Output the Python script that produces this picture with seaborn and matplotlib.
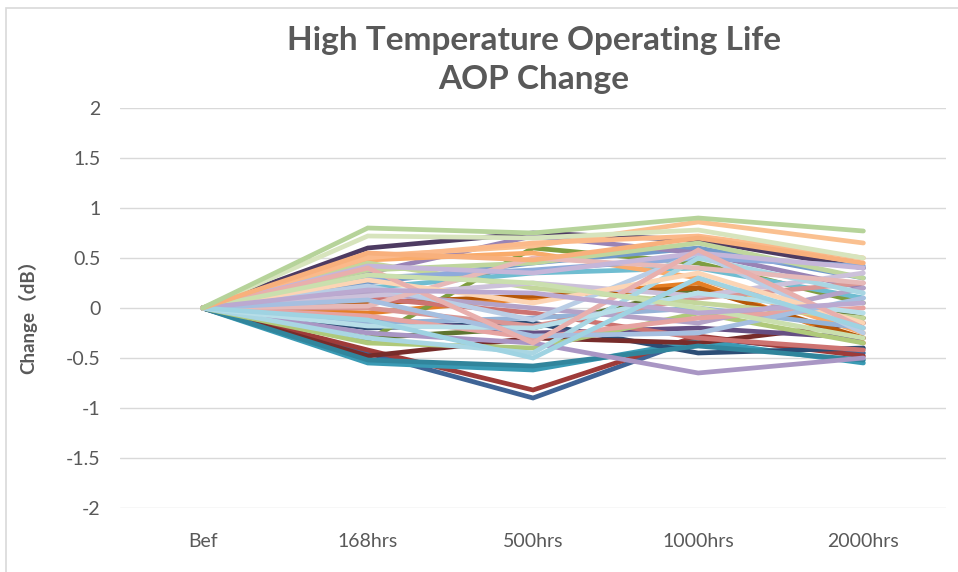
import numpy as np
import pandas as pd
import matplotlib
matplotlib.use("Agg")
import matplotlib.pyplot as plt
from matplotlib.patches import Rectangle
import seaborn as sns

# ---------------- data ----------------
categories = ["Bef", "168hrs", "500hrs", "1000hrs", "2000hrs"]

s01 = [0, -0.45, -0.90, -0.30, -0.45]
s02 = [0, -0.42, -0.82, -0.28, -0.48]
s03 = [0, -0.30, -0.20, 0.20, -0.10]
s04 = [0, 0.60, 0.75, 0.68, 0.40]
s05 = [0, -0.55, -0.62, -0.33, -0.55]
s06 = [0, -0.05, 0.10, 0.25, -0.35]
s07 = [0, -0.20, -0.15, -0.45, -0.40]
s08 = [0, -0.48, -0.30, -0.35, -0.15]
s09 = [0, -0.32, 0.60, 0.45, 0.05]
s10 = [0, -0.10, -0.25, -0.20, -0.30]
s11 = [0, -0.52, -0.58, -0.38, -0.52]
s12 = [0, 0.05, 0.12, 0.20, -0.30]
s13 = [0, 0.25, 0.45, 0.60, 0.30]
s14 = [0, 0.10, -0.05, -0.30, -0.42]
s15 = [0, -0.35, -0.40, -0.05, -0.35]
s16 = [0, 0.35, 0.72, 0.55, 0.20]
s17 = [0, 0.20, 0.35, 0.40, 0.10]
s18 = [0, 0.48, 0.55, 0.30, -0.25]
s19 = [0, -0.15, -0.10, 0.00, -0.20]
s20 = [0, 0.00, -0.18, 0.10, 0.25]
s21 = [0, 0.45, 0.20, 0.05, -0.10]
s22 = [0, 0.15, 0.00, -0.15, 0.20]
s23 = [0, -0.25, -0.35, -0.65, -0.50]
s24 = [0, 0.52, 0.62, 0.86, 0.65]
s25 = [0, 0.30, 0.38, 0.50, 0.42]
s26 = [0, -0.08, -0.30, -0.10, 0.00]
s27 = [0, 0.38, 0.45, 0.65, 0.30]
s28 = [0, 0.12, 0.25, 0.12, 0.35]
s29 = [0, -0.30, -0.45, 0.50, 0.15]
s30 = [0, 0.50, 0.65, 0.72, 0.50]
s31 = [0, 0.22, -0.12, 0.55, -0.25]
s32 = [0, 0.02, 0.50, 0.40, 0.25]
s33 = [0, 0.72, 0.70, 0.78, 0.50]
s34 = [0, 0.42, 0.35, 0.55, 0.40]
s35 = [0, -0.18, -0.20, 0.15, -0.05]
s36 = [0, 0.28, 0.05, 0.35, -0.15]
s37 = [0, 0.08, -0.28, -0.25, 0.10]
s38 = [0, 0.40, -0.35, 0.58, -0.20]
s39 = [0, 0.33, 0.25, 0.00, -0.30]
s40 = [0, 0.18, 0.15, -0.05, 0.05]
s41 = [0, -0.12, -0.50, 0.30, -0.20]
s42 = [0, 0.55, 0.48, 0.70, 0.45]
s43 = [0, 0.80, 0.75, 0.90, 0.77]

series = [s01, s02, s03, s04, s05, s06, s07, s08, s09, s10, s11, s12, s13,
          s14, s15, s16, s17, s18, s19, s20, s21, s22, s23, s24, s25, s26,
          s27, s28, s29, s30, s31, s32, s33, s34, s35, s36, s37, s38, s39,
          s40, s41, s42, s43]

# ---------------- style ----------------
colors = [
    "#3F6496", "#9E3B39", "#5F7530", "#4D3B62", "#3A9AB4", "#E57F25",
    "#2C4D75", "#772C2A", "#7E9D40", "#664F83", "#31859C", "#B65708",
    "#729ACA", "#CD7371", "#AFC97A", "#9983B5", "#6FBDD1", "#F9AB6B",
    "#95B3D7", "#D99694", "#C3D69B", "#B3A2C7", "#A996C4", "#FAC090",
    "#8EAADB", "#E6A3A1", "#BFD69E", "#CCC1DA", "#A9D6E3", "#FBB98A",
    "#B9CDE5", "#E6B9B8", "#D7E4BD", "#C5B6D9", "#B7DEE8", "#FCD5B5",
    "#A6BFE0", "#E8AFAD", "#CADFAE", "#BBA9D0", "#9FD3E2", "#F8B07C",
    "#B6D39A",
]

rows = []
for i, vals in enumerate(series):
    for j, v in enumerate(vals):
        rows.append({"series": f"S{i+1:02d}", "pos": j, "change": v})
df = pd.DataFrame(rows)

sns.set_theme(style="white")
plt.rcParams["font.family"] = ["Lato", "Noto Sans CJK SC", "DejaVu Sans"]

fig = plt.figure(figsize=(9.58, 5.72), dpi=100)
ax = fig.add_axes([120 / 958, 1 - 508 / 572, 826 / 958, 400 / 572])

palette = {f"S{i+1:02d}": colors[i % len(colors)] for i in range(len(series))}
sns.lineplot(data=df, x="pos", y="change", hue="series", palette=palette,
             legend=False, sort=False, linewidth=3.4, ax=ax,
             estimator=None, solid_joinstyle="miter")

ax.set_xlim(-0.5, 4.5)
ax.set_ylim(-2, 2)
ax.set_yticks(np.arange(-2, 2.01, 0.5))
ax.set_yticklabels(["-2", "-1.5", "-1", "-0.5", "0", "0.5", "1", "1.5", "2"])
ax.set_xticks(range(len(categories)))
ax.set_xticklabels(categories)
ax.grid(axis="y", color="#D9D9D9", linewidth=1.0)
ax.set_axisbelow(True)
for sp in ax.spines.values():
    sp.set_visible(False)
ax.tick_params(axis="both", length=0, labelsize=14, colors="#595959")
ax.tick_params(axis="x", pad=18)
ax.tick_params(axis="y", pad=14)
ax.set_xlabel("")
ax.set_ylabel("")

fig.text(28 / 958, 1 - 312 / 572, "Change（dB）", rotation=90, ha="center",
         va="center", fontsize=13.5, fontweight="bold", color="#595959")
fig.text(534 / 958, 1 - 60 / 572, "High Temperature Operating Life\nAOP Change",
         ha="center", va="center", fontsize=24, fontweight="bold",
         color="#595959", linespacing=1.45)

fig.patches.append(Rectangle((6 / 958, -0.1), 2, 1 - 8 / 572 + 0.1,
                             transform=fig.transFigure, fill=False,
                             edgecolor="#D9D9D9", linewidth=1.2))

fig.savefig("out.png", dpi=100, facecolor="white")
